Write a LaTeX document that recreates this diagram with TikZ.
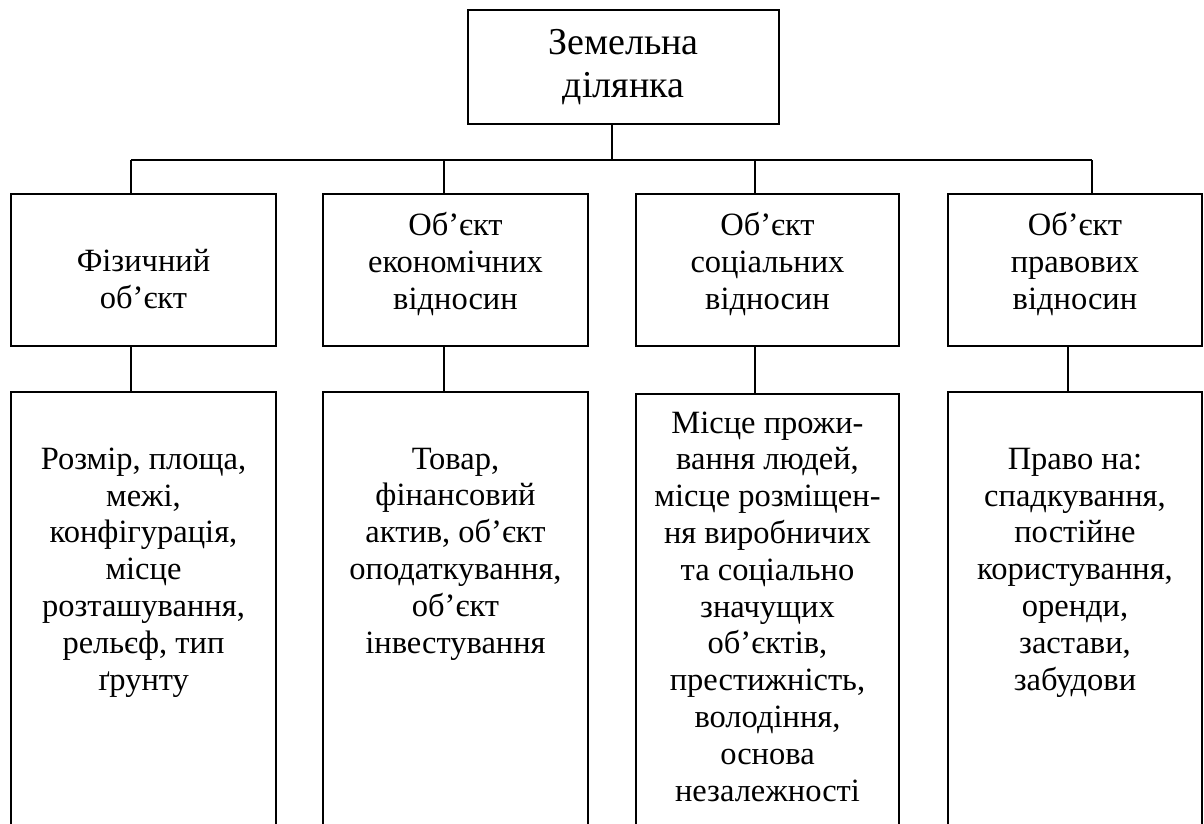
\documentclass[tikz,border=0pt]{standalone}
\usepackage{fontspec}
\setmainfont{Liberation Serif}
\begin{document}
\begin{tikzpicture}[x=1pt,y=-1pt,
  boxline/.style={draw=black,line width=1.3pt,inner sep=0pt,outer sep=0pt},
  wire/.style={draw=black,line width=1.2pt},
  txt/.style={align=center,inner sep=0pt,anchor=base,font=\fontsize{32.5}{36.8}\selectfont},
  toptxt/.style={align=center,inner sep=0pt,anchor=base,font=\fontsize{38}{42.5}\selectfont}]
\useasboundingbox (0,0) rectangle (1204,823);
\clip (0,0) rectangle (1204,823);
% top box
\node[boxline,minimum width=311pt,minimum height=114pt] (top) at (623.5,67) {};
\node[toptxt] (ttop) at (623.5,97) {Земельна\\ділянка};
% bus
\coordinate (j0) at (612,160);
\coordinate (c1) at (131,160);
\coordinate (c2) at (444,160);
\coordinate (c3) at (755,160);
\coordinate (c4) at (1092,160);
\coordinate (e4) at (1068,160);
% row 2
\node[boxline,minimum width=265pt,minimum height=152pt] (b1) at (143.5,270) {};
\node[boxline,minimum width=265pt,minimum height=152pt] (b2) at (455.5,270) {};
\node[boxline,minimum width=263pt,minimum height=152pt] (b3) at (767.5,270) {};
\node[boxline,minimum width=254pt,minimum height=152pt] (b4) at (1075,270) {};
\node[txt] (t1) at (143.5,308) {Фізичний\\об’єкт};
\node[txt] (t2) at (455.5,309) {Об’єкт\\економічних\\відносин};
\node[txt] (t3) at (767.5,309) {Об’єкт\\соціальних\\відносин};
\node[txt] (t4) at (1075,309) {Об’єкт\\правових\\відносин};
% row 3
\node[boxline,minimum width=265pt,minimum height=450pt] (d1) at (143.5,617) {};
\node[boxline,minimum width=265pt,minimum height=450pt] (d2) at (455.5,617) {};
\node[boxline,minimum width=263pt,minimum height=446pt] (d3) at (767.5,617) {};
\node[boxline,minimum width=254pt,minimum height=450pt] (d4) at (1075,617) {};
\node[txt] (s1) at (143.5,690) {Розмір, площа,\\межі,\\конфігурація,\\місце\\розташування,\\рельєф, тип\\ґрунту};
\node[txt] (s2) at (455.5,653) {Товар,\\фінансовий\\актив, об’єкт\\оподаткування,\\об’єкт\\інвестування};
\node[txt] (s3) at (767.5,801) {Місце прожи-\\вання людей,\\місце розміщен-\\ня виробничих\\та соціально\\значущих\\об’єктів,\\престижність,\\володіння,\\основа\\незалежності};
\node[txt] (s4) at (1075,690) {Право на:\\спадкування,\\постійне\\користування,\\оренди,\\застави,\\забудови};
% connectors
\draw[wire] (top.south -| j0) -- (j0);
\draw[wire] (c1) -- (c4);
\draw[wire] (c1) -- (c1 |- b1.north);
\draw[wire] (c2) -- (c2 |- b2.north);
\draw[wire] (c3) -- (c3 |- b3.north);
\draw[wire] (c4) -- (c4 |- b4.north);
\draw[wire] (b1.south -| c1) -- (c1 |- d1.north);
\draw[wire] (b2.south -| c2) -- (c2 |- d2.north);
\draw[wire] (b3.south -| c3) -- (c3 |- d3.north);
\draw[wire] (b4.south -| e4) -- (e4 |- d4.north);
\end{tikzpicture}
\end{document}
